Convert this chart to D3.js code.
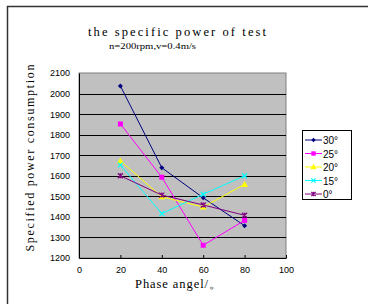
<!DOCTYPE html>
<html>
<head>
<meta charset="utf-8">
<script src="https://cdn.jsdelivr.net/npm/d3@7"></script>
<style>
	body { margin: 0; background: #fff; }
	svg { display: block; }
</style>
</head>
<body>
<div id="chart"></div>
<script>
let X_VALUES = [20, 40, 60, 80];
let SERIES_NAMES = ['30°', '25°', '20°', '15°', '0°'];
let SERIES_30 = [2037, 1639, 1493, 1357];
let SERIES_25 = [1852, 1593, 1262, 1383];
let SERIES_20 = [1672, 1498, 1448, 1558];
let SERIES_15 = [1652, 1416, 1510, 1600];
let SERIES_0 = [1600, 1506, 1458, 1408];
let X_TICKS = [0, 20, 40, 60, 80, 100];
let Y_TICKS = [1200, 1300, 1400, 1500, 1600, 1700, 1800, 1900, 2000, 2100];

let colors = ['#000080', '#ff00ff', '#ffff00', '#00ffff', '#800080'];
let shapes = ['diamond', 'square', 'triangle', 'cross', 'star'];
let all_series = [SERIES_30, SERIES_25, SERIES_20, SERIES_15, SERIES_0];

var svg_width = 368,
	svg_height = 304;

var svg = d3.select("#chart").append("svg")
	.attr("width", svg_width)
	.attr("height", svg_height);

// outer frame (only left and top show)
svg.append("rect")
	.attr("x", 7.5).attr("y", 6.5)
	.attr("width", 400).attr("height", 400)
	.style("fill", "none")
	.style("stroke", "#333")
	.style("stroke-width", 1.5);

var x = d3.scaleLinear().domain([0, 100]).range([79, 286]);
var y = d3.scaleLinear().domain([1200, 2100]).range([258, 73]);

var serif = '"Liberation Serif", "DejaVu Serif", serif';
var sans = 'Arial, "Liberation Sans", sans-serif';

// titles
svg.append("text")
	.attr("x", 88).attr("y", 36)
	.attr("textLength", 178).attr("lengthAdjust", "spacing")
	.style("font-family", serif)
	.style("font-size", "12.5px")
	.text("the specific power of test");
svg.append("text")
	.attr("x", 109).attr("y", 49)
	.attr("textLength", 87).attr("lengthAdjust", "spacingAndGlyphs")
	.style("font-family", serif)
	.style("font-size", "8.5px")
	.text("n=200rpm,v=0.4m/s");

// plot area
svg.append("rect")
	.attr("x", x(0)).attr("y", y(2100))
	.attr("width", x(100) - x(0)).attr("height", y(1200) - y(2100))
	.style("fill", "#c0c0c0")
	.style("stroke", "#808080")
	.style("stroke-width", 1);

svg.append("g")
	.selectAll("line")
	.data(Y_TICKS.slice(1, -1))
	.enter().append("line")
	.attr("x1", x(0)).attr("x2", x(100))
	.attr("y1", d => Math.round(y(d)) + 0.5)
	.attr("y2", d => Math.round(y(d)) + 0.5)
	.style("stroke", "#000")
	.style("stroke-width", 1);

// axes
var yAxis = d3.axisLeft(y).tickValues(Y_TICKS).tickFormat(d3.format("d")).tickSize(0).tickPadding(9);
var gy = svg.append("g").attr("transform", "translate(" + x(0) + ",0)").call(yAxis);
gy.select(".domain").style("stroke", "#000");
gy.selectAll("text").style("font-family", sans).style("font-size", "9px");

var xAxis = d3.axisBottom(x).tickValues(X_TICKS).tickSizeInner(-3).tickSizeOuter(0).tickPadding(9);
var gx = svg.append("g").attr("transform", "translate(0," + y(1200) + ")").call(xAxis);
gx.select(".domain").style("stroke", "#000");
gx.selectAll("line").style("stroke", "#000");
gx.selectAll("text").style("font-family", sans).style("font-size", "9px");

svg.append("text")
	.attr("transform", "translate(34,158) rotate(-90)")
	.attr("text-anchor", "middle")
	.attr("textLength", 187).attr("lengthAdjust", "spacing")
	.style("font-family", serif)
	.style("font-size", "12px")
	.text("Specified power consumption");

svg.append("text")
	.attr("x", 135).attr("y", 288)
	.attr("textLength", 87).attr("lengthAdjust", "spacing")
	.style("font-family", serif)
	.style("font-size", "12.5px")
	.text("Phase angel/。");

function marker(g, shape, color, size) {
	var s = size;
	if (shape == 'diamond') {
		g.append("path").attr("d", "M0,-" + s + "L" + s + ",0L0," + s + "L-" + s + ",0Z").style("fill", color);
	}
	else if (shape == 'square') {
		g.append("rect").attr("x", -s).attr("y", -s).attr("width", 2 * s).attr("height", 2 * s).style("fill", color);
	}
	else if (shape == 'triangle') {
		g.append("path").attr("d", "M0,-" + (s + 1) + "L" + (s + 1) + "," + s + "L-" + (s + 1) + "," + s + "Z").style("fill", color);
	}
	else if (shape == 'cross') {
		g.append("path").attr("d", "M-" + s + ",-" + s + "L" + s + "," + s + "M" + s + ",-" + s + "L-" + s + "," + s).style("stroke", color).style("stroke-width", 1.2);
	}
	else {
		g.append("path").attr("d", "M-" + s + ",-" + s + "L" + s + "," + s + "M" + s + ",-" + s + "L-" + s + "," + s + "M0,-" + s + "L0," + s).style("stroke", color).style("stroke-width", 1.2);
	}
}

var line = d3.line()
	.x((d, i) => x(X_VALUES[i]))
	.y(d => y(d));

all_series.forEach(function(values, k) {
	svg.append("path")
		.datum(values)
		.attr("d", line)
		.style("fill", "none")
		.style("stroke", colors[k])
		.style("stroke-width", 1);
	values.forEach(function(v, i) {
		var g = svg.append("g").attr("transform", "translate(" + x(X_VALUES[i]) + "," + y(v) + ")");
		marker(g, shapes[k], colors[k], 2.5);
	});
});

// legend
var legend = svg.append("g");
legend.append("rect")
	.attr("x", 302.5).attr("y", 130.5)
	.attr("width", 49).attr("height", 69)
	.style("fill", "#fff")
	.style("stroke", "#000")
	.style("stroke-width", 1);

SERIES_NAMES.forEach(function(name, k) {
	var ly = 140 + k * 13.5;
	legend.append("line")
		.attr("x1", 305).attr("x2", 322)
		.attr("y1", ly).attr("y2", ly)
		.style("stroke", colors[k]).style("stroke-width", 1);
	var g = legend.append("g").attr("transform", "translate(313.5," + ly + ")");
	marker(g, shapes[k], colors[k], 2.2);
	legend.append("text")
		.attr("x", 323).attr("y", ly + 4)
		.style("font-family", sans)
		.style("font-size", "10px")
		.text(name);
});
</script>
</body>
</html>
